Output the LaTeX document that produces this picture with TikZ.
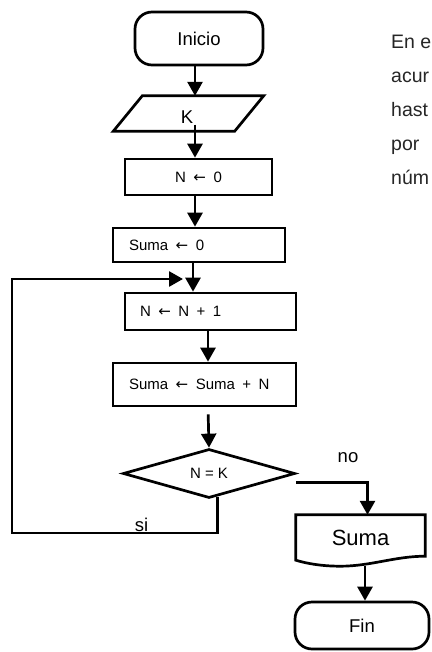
\documentclass[tikz,border=0pt]{standalone}
\usepackage{fontspec}
\setmainfont{Liberation Sans}
\newfontfamily\arrowfont{DejaVu Sans}
\usetikzlibrary{arrows.meta,shapes.geometric,calc}

% text sizes (1pt = one unit of the drawing)
\newcommand\bigtxt{\fontsize{18.5pt}{21pt}\selectfont}
\newcommand\boxtxt{\fontsize{15pt}{18pt}\selectfont}
\newcommand\doctxt{\fontsize{22pt}{26pt}\selectfont}
\newcommand\notetxt{\fontsize{19.5pt}{22pt}\selectfont}
\newcommand\gap{\hspace{.5em}}
\newcommand\asg{\gap{\arrowfont ←}\gap}

\tikzset{
  stroke/.style={line width=2.7pt, draw=black},
  term/.style={stroke, rectangle, rounded corners=17pt, inner sep=0pt, font=\bigtxt},
  procbox/.style={stroke, rectangle, inner ysep=0pt, font=\boxtxt},
  leftbox/.style={procbox, align=left},
  arr/.style={line width=2.7pt, -{Triangle[length=14pt,width=15pt]}},
  note/.style={anchor=base west, inner sep=0pt, font=\notetxt, text=black!85},
}

\begin{document}
\begin{tikzpicture}[x=1pt, y=-1pt]
  \path[use as bounding box, fill=white] (0,0) rectangle (431,652);

  % flow chart blocks
  \node[term, minimum width=128pt, minimum height=53pt] (ini) at (199,38.5) {Inicio};

  \node[rectangle, inner sep=0pt, minimum width=150pt, minimum height=35pt] (kbox) at (188.5,113.5) {};
  \draw[stroke, line join=miter] ($(kbox.north west)+(29,0)$) -- (kbox.north east)
        -- ($(kbox.south east)+(-29,0)$) -- (kbox.south west) -- cycle;
  \node[font=\bigtxt, inner sep=1pt] (k) at (187,117) {K};

  \node[procbox, minimum width=147pt, minimum height=36pt] (n0) at (198.5,177) {N\asg 0};
  \node[leftbox, inner xsep=16pt, text width=140pt, minimum height=34pt] (s0) at (199,245) {Suma\asg 0};
  \node[leftbox, inner xsep=15pt, text width=141pt, minimum height=37pt] (nn) at (210.5,311.5) {N\asg N\gap+\gap1};
  \node[leftbox, inner xsep=16pt, text width=151pt, minimum height=43pt] (ssn) at (204.5,384.5) {Suma\asg Suma\gap+\gap N};

  \node[stroke, diamond, inner sep=0pt, minimum width=172pt, minimum height=49pt, font=\boxtxt] (dec) at (209,473.5) {N = K};

  % output document with wavy bottom
  \node[rectangle, inner sep=0pt, minimum width=129pt, minimum height=45pt, font=\doctxt] (out) at (360.5,537.5) {Suma};
  \draw[stroke] (out.north west) -- (out.north east) -- ($(out.south east)+(0,-4)$)
        .. controls +(-30,0) and +(30,0) .. ($(out.south)+(-20,6)$)
        .. controls +(-20,0) and +(10,3) .. (out.south west) -- cycle;

  \node[term, minimum width=134pt, minimum height=47pt] (fin) at (362,625.5) {Fin};

  % connector guide lines
  \coordinate (sp1) at (195,0);
  \coordinate (sp2) at (193,0);
  \coordinate (sp3) at (208,0);
  \coordinate (sp4) at (365,0);
  \coordinate (lc1) at (12,533);
  \coordinate (lc2) at (183,279);
  \coordinate (dstart) at ($(dec.south)!0.1!(dec.east)$);

  % connectors
  \draw[arr] (sp1 |- ini.south) -- (sp1 |- kbox.north);
  \draw[arr] (sp1 |- k.south) -- (sp1 |- n0.north);
  \draw[arr] (sp1 |- n0.south) -- (sp1 |- s0.north);
  \draw[arr] (sp2 |- s0.south) -- (sp2 |- nn.north);
  \draw[arr] (sp3 |- nn.south) -- (sp3 |- ssn.north);
  \draw[arr, shorten <=7pt] (sp3 |- ssn.south) -- (dec.north);
  \draw[arr] ([yshift=-9pt]dec.east) -| ([xshift=7pt]out.north);
  \draw[arr, shorten <=6pt] (sp4 |- out.south) -- (sp4 |- fin.north);
  \draw[arr] (dstart) |- (lc1) |- (lc2);

  % branch labels
  \node[anchor=base, inner sep=0pt, font=\bigtxt] (si) at (141.5,531) {si};
  \node[anchor=base, inner sep=0pt, font=\bigtxt] (no) at (348,462) {no};

  % side note
  \node[note] (t1) at (391,49) {En e};
  \node[note] (t2) at (391,83) {acur};
  \node[note] (t3) at (391,117) {hast};
  \node[note] (t4) at (391,151) {por};
  \node[note] (t5) at (391,185) {núm};
\end{tikzpicture}
\end{document}
